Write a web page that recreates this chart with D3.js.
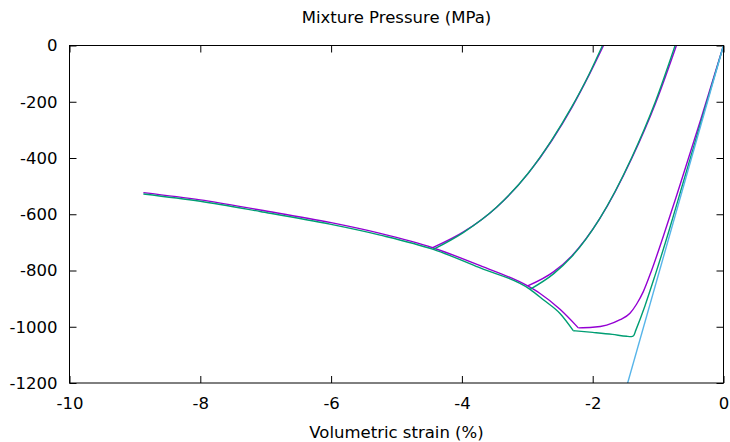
<!DOCTYPE html>
<html>
<head>
<meta charset="utf-8">
<script src="https://cdn.jsdelivr.net/npm/d3@7"></script>
<style>
  body { margin: 0; background: #fff; }
  text { font-family: "DejaVu Sans", sans-serif; }
</style>
</head>
<body>
<svg id="chart" width="730" height="442"></svg>
<script>
// strain (%) , pressure (MPa) pairs
const xTicks = [-10, -8, -6, -4, -2, 0];
const yTicks = [0, -200, -400, -600, -800, -1000, -1200];

const purpleLoading = [[-2.22,-1004],[-2.0,-1002],[-1.786,-994],[-1.58,-975],[-1.43,-952],[-1.33,-920],
    [-1.226,-875],[-1.10,-800],[-0.92,-678],[-0.69,-514],[-0.35,-265],[0,0]];
const purpleEnvelope = [[-8.87,-523],[-8.0,-549],[-7.085,-585],[-6.0,-630],[-5.25,-668],[-4.447,-719],
    [-3.72,-783],[-2.994,-855],[-2.81,-881],[-2.5,-938],[-2.22,-1004]];
const purpleBranchA = [[-4.447,-719],[-3.97,-662],[-3.46,-573],[-2.98,-453],[-2.62,-336],[-2.315,-219],[-2.047,-101],[-1.835,0]];
const purpleBranchB = [[-2.994,-855],[-2.6,-805],[-2.32,-748],[-1.89,-615],[-1.40,-400],[-1.03,-200],[-0.72,0]];

const greenLoading = [[-2.297,-1014],[-2.0,-1020],[-1.7,-1027],[-1.48,-1034],[-1.41,-1035],[-1.375,-1032],
    [-1.34,-1012],[-1.2,-925],[-1.05,-820],[-0.83,-656],[-0.65,-514],[0,0]];
const greenEnvelope = [[-8.87,-528],[-8.0,-554],[-7.085,-590],[-6.0,-636],[-5.25,-674],[-4.437,-725],
    [-3.72,-791],[-2.958,-867],[-2.75,-905],[-2.5,-953],[-2.297,-1014]];
const greenBranchA = [[-4.437,-725],[-3.985,-666],[-3.475,-576],[-2.99,-455],[-2.632,-338],[-2.327,-221],[-2.057,-103],[-1.85,0]];
const greenBranchB = [[-2.958,-867],[-2.6,-812],[-2.33,-753],[-1.90,-618],[-1.41,-402],[-1.045,-202],[-0.74,0]];

const blueLine = [[-1.60,-1310],[0,0]];

const svg = d3.select("#chart");
const plotLeft = 69.5, plotRight = 723.5, plotTop = 45.5, plotBottom = 383;
const fontSize = "16.5px";

const x = d3.scaleLinear().domain([-10, 0]).range([plotLeft, plotRight]);
const y = d3.scaleLinear().domain([-1200, 0]).range([plotBottom, plotTop]);

svg.append("clipPath").attr("id", "plotArea")
    .append("rect")
    .attr("x", plotLeft).attr("y", plotTop)
    .attr("width", plotRight - plotLeft).attr("height", plotBottom - plotTop);

const fmt = d => String(d);

function styleAxis(g){
    g.select(".domain").remove();
    g.selectAll(".tick line").attr("stroke", "#000");
    g.selectAll(".tick text")
        .attr("fill", "#000")
        .attr("font-size", fontSize)
        .attr("font-family", "DejaVu Sans, sans-serif");
}

svg.append("g")
    .attr("transform", `translate(0,${plotBottom})`)
    .call(d3.axisBottom(x).tickValues(xTicks).tickFormat(fmt).tickSizeInner(-7).tickSizeOuter(0).tickPadding(14))
    .call(styleAxis);

svg.append("g")
    .attr("transform", `translate(0,${plotTop})`)
    .call(d3.axisTop(x).tickValues(xTicks).tickFormat("").tickSizeInner(-7).tickSizeOuter(0))
    .call(styleAxis);

svg.append("g")
    .attr("transform", `translate(${plotLeft},0)`)
    .call(d3.axisLeft(y).tickValues(yTicks).tickFormat(fmt).tickSizeInner(-7).tickSizeOuter(0).tickPadding(12))
    .call(styleAxis);

svg.append("g")
    .attr("transform", `translate(${plotRight},0)`)
    .call(d3.axisRight(y).tickValues(yTicks).tickFormat("").tickSizeInner(-7).tickSizeOuter(0))
    .call(styleAxis);

const line = d3.line()
    .x(d => x(d[0]))
    .y(d => y(d[1]))
    .curve(d3.curveMonotoneX);

const series = [
    {data: purpleLoading, color: "#9400d3"},
    {data: purpleEnvelope, color: "#9400d3"},
    {data: purpleBranchA, color: "#9400d3"},
    {data: purpleBranchB, color: "#9400d3"},
    {data: greenLoading, color: "#009e73"},
    {data: greenEnvelope, color: "#009e73"},
    {data: greenBranchA, color: "#009e73"},
    {data: greenBranchB, color: "#009e73"},
    {data: blueLine, color: "#56b4e9"}
];

svg.append("g")
    .attr("clip-path", "url(#plotArea)")
    .selectAll("path")
    .data(series)
    .join("path")
    .attr("d", s => line(s.data))
    .attr("fill", "none")
    .attr("stroke", s => s.color)
    .attr("stroke-width", 1.4);

svg.append("rect")
    .attr("x", plotLeft).attr("y", plotTop)
    .attr("width", plotRight - plotLeft).attr("height", plotBottom - plotTop)
    .attr("fill", "none")
    .attr("stroke", "#000")
    .attr("stroke-width", 1);

svg.append("text")
    .attr("x", (plotLeft + plotRight) / 2)
    .attr("y", 23)
    .attr("text-anchor", "middle")
    .attr("font-size", fontSize)
    .text("Mixture Pressure (MPa)");

svg.append("text")
    .attr("x", (plotLeft + plotRight) / 2)
    .attr("y", 438)
    .attr("text-anchor", "middle")
    .attr("font-size", fontSize)
    .text("Volumetric strain (%)");
</script>
</body>
</html>
